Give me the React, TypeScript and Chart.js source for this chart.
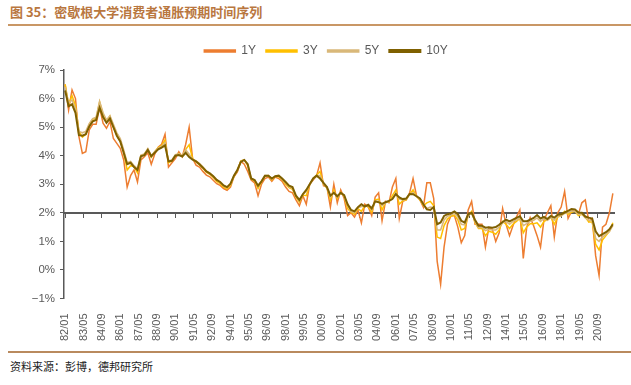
import React, { useEffect, useRef } from 'react';
import { Chart, registerables } from 'chart.js';

Chart.register(...registerables);

const TITLE = '图 35：密歇根大学消费者通胀预期时间序列';
const SOURCE = '资料来源：彭博，德邦研究所';
const SERIES_LABELS = ['1Y', '3Y', '5Y', '10Y'];
const SERIES_COLORS = ['#ED7D31', '#FFC000', '#D9B87A', '#7F6000'];

// x tick labels (every 16 months starting 1982/01)
const xTickLabels = [
  '82/01', '83/05', '84/09', '86/01', '87/05', '88/09', '90/01', '91/05', '92/09', '94/01',
  '95/05', '96/09', '98/01', '99/05', '00/09', '02/01', '03/05', '04/09', '06/01', '07/05',
  '08/09', '10/01', '11/05', '12/09', '14/01', '15/05', '16/09', '18/01', '19/05', '20/09',
];
const TICK_EVERY_MONTHS = 16;
const SAMPLE_STEP_MONTHS = 3;
const X_MIN = -1;
const X_MAX = 478;
const Y_MIN = -1;
const Y_MAX = 7;
const AXIS_CROSS = 2;

// values in %, sampled every 3 months from 1982/01
const y1 = [
  6.5, 5.6, 6.3, 6.0, 4.67, 4.08, 4.14, 4.9, 5.1, 5.1,
  5.7, 5.14, 4.96, 5.2, 4.6, 4.43, 4.26, 3.85, 2.9, 3.3,
  3.5, 3.08, 3.85, 3.96, 4.1, 3.7, 4.05, 4.3, 4.4, 4.75,
  3.6, 3.75, 3.9, 4.14, 3.96, 4.4, 5.0, 3.9, 3.67, 3.6,
  3.45, 3.32, 3.26, 3.14, 3.02, 2.96, 2.85, 2.79, 2.9, 3.26,
  3.43, 3.8, 3.7, 3.45, 3.15, 3.05, 2.6, 3.0, 3.2, 3.25,
  3.1, 3.25, 3.2, 3.1, 2.9, 2.75, 2.7, 2.45, 2.25, 2.6,
  2.3, 3.0, 3.15, 3.3, 3.75, 2.95, 2.9, 2.2, 3.0, 2.35,
  2.8, 2.5, 1.9, 2.0, 1.85, 2.1, 1.65, 2.3, 2.2, 1.9,
  2.55, 2.7, 1.72, 2.4, 2.35, 2.9, 3.2, 1.8, 2.4, 2.45,
  2.7, 3.2, 2.6, 2.45, 2.2, 3.05, 3.05, 2.5, 0.3, -0.5,
  0.8, 1.6, 1.9, 1.9, 1.5, 0.95, 1.2, 2.1, 2.4, 1.6,
  1.6, 1.6, 0.8, 1.48, 1.42, 1.0, 1.3, 2.15, 1.6, 1.2,
  1.55, 1.85, 2.1, 0.4, 1.5, 1.83, 1.55, 1.2, 0.8, 1.75,
  2.0, 2.25, 1.15, 2.0, 2.2, 2.75, 1.8, 2.05, 2.1, 1.95,
  2.35, 2.45, 1.7, 1.8, 0.5, -0.2, 1.5, 1.6, 2.0, 2.68,
];
const y3 = [
  6.5, 5.8, 6.1, 5.75, 4.85, 4.65, 4.75, 5.1, 5.28, 5.3,
  5.88, 5.45, 5.2, 5.38, 5.0, 4.72, 4.5, 4.12, 3.5, 3.65,
  3.62, 3.4, 4.0, 4.05, 4.22, 3.95, 4.14, 4.28, 4.35, 4.55,
  3.75, 3.82, 4.0, 4.08, 3.98, 4.22, 4.38, 3.9, 3.78, 3.68,
  3.56, 3.42, 3.35, 3.24, 3.1, 3.02, 2.9, 2.84, 2.96, 3.28,
  3.48, 3.82, 3.85, 3.65, 3.18, 3.12, 2.85, 3.08, 3.28, 3.3,
  3.15, 3.28, 3.26, 3.16, 3.0, 2.88, 2.82, 2.55, 2.38, 2.62,
  2.6, 3.0, 3.2, 3.32, 3.45, 3.0, 2.88, 2.45, 2.8, 2.5,
  2.72, 2.58, 2.15, 2.02, 1.95, 2.15, 2.05, 2.25, 2.22, 2.02,
  2.45, 2.48, 2.1, 2.36, 2.38, 2.6, 2.8, 2.3, 2.42, 2.45,
  2.65, 2.8, 2.58, 2.45, 2.25, 2.35, 2.4, 2.25, 1.15, 1.1,
  1.55, 1.78, 1.88, 1.92, 1.75, 1.4, 1.45, 1.9, 2.05, 1.65,
  1.45, 1.45, 1.2, 1.35, 1.32, 1.25, 1.4, 1.7, 1.6, 1.45,
  1.6, 1.7, 1.8, 1.3, 1.5, 1.62, 1.62, 1.65, 1.5, 1.7,
  1.75, 1.85, 1.6, 1.85, 1.9, 2.05, 1.95, 2.02, 2.05, 1.9,
  1.95, 1.85, 1.68, 1.68, 0.9, 0.7, 1.05, 1.2, 1.35, 1.65,
];
const y5 = [
  6.4, 5.85, 5.95, 5.65, 4.85, 4.8, 4.85, 5.12, 5.3, 5.35,
  5.9, 5.5, 5.25, 5.4, 5.1, 4.8, 4.6, 4.2, 3.75, 3.8,
  3.65, 3.55, 4.02, 4.06, 4.25, 4.0, 4.14, 4.26, 4.32, 4.45,
  3.82, 3.85, 4.03, 4.06, 4.0, 4.2, 4.05, 3.88, 3.82, 3.72,
  3.6, 3.46, 3.38, 3.28, 3.15, 3.06, 2.94, 2.88, 3.0, 3.3,
  3.5, 3.8, 3.86, 3.7, 3.2, 3.15, 2.92, 3.1, 3.3, 3.3,
  3.18, 3.28, 3.28, 3.18, 3.05, 2.92, 2.86, 2.58, 2.42, 2.65,
  2.75, 3.0, 3.2, 3.3, 3.3, 3.02, 2.88, 2.55, 2.72, 2.55,
  2.7, 2.6, 2.25, 2.05, 2.0, 2.18, 2.22, 2.22, 2.26, 2.1,
  2.4, 2.4, 2.25, 2.35, 2.4, 2.5, 2.7, 2.48, 2.45, 2.47,
  2.65, 2.7, 2.58, 2.48, 2.28, 2.15, 2.2, 2.18, 1.4, 1.4,
  1.75, 1.88, 1.92, 1.98, 1.86, 1.6, 1.58, 1.9, 2.0, 1.7,
  1.48, 1.5, 1.38, 1.42, 1.4, 1.4, 1.5, 1.65, 1.7, 1.6,
  1.7, 1.75, 1.82, 1.55, 1.62, 1.7, 1.74, 1.82, 1.7, 1.8,
  1.74, 1.84, 1.74, 1.88, 1.9, 1.98, 2.0, 2.06, 2.06, 1.95,
  1.96, 1.82, 1.74, 1.72, 1.1, 1.0, 1.15, 1.25, 1.35, 1.55,
];
const y10 = [
  6.28, 5.73, 5.8, 5.5, 4.72, 4.7, 4.75, 5.02, 5.2, 5.25,
  5.68, 5.35, 5.15, 5.3, 5.0, 4.7, 4.5, 4.1, 3.7, 3.75,
  3.6, 3.5, 3.98, 4.02, 4.2, 3.98, 4.1, 4.22, 4.28, 4.36,
  3.8, 3.82, 4.0, 4.02, 3.97, 4.1, 3.95, 3.86, 3.8, 3.7,
  3.58, 3.45, 3.38, 3.28, 3.15, 3.08, 2.96, 2.9, 3.02, 3.3,
  3.5, 3.78, 3.85, 3.7, 3.2, 3.15, 2.95, 3.1, 3.3, 3.3,
  3.2, 3.28, 3.3, 3.2, 3.08, 2.95, 2.9, 2.6, 2.45, 2.65,
  2.8, 3.0, 3.2, 3.3, 3.2, 3.05, 2.9, 2.6, 2.7, 2.58,
  2.7, 2.62, 2.3, 2.1, 2.05, 2.2, 2.3, 2.22, 2.28, 2.15,
  2.4, 2.37, 2.31, 2.37, 2.42, 2.48, 2.66, 2.54, 2.48, 2.5,
  2.66, 2.65, 2.58, 2.5, 2.3, 2.12, 2.1, 2.2, 1.6, 1.66,
  1.89, 1.95, 1.98, 2.05, 1.95, 1.72, 1.66, 1.95, 2.0, 1.75,
  1.55, 1.55, 1.48, 1.49, 1.48, 1.5, 1.58, 1.68, 1.76, 1.7,
  1.76, 1.82, 1.88, 1.7, 1.7, 1.76, 1.82, 1.92, 1.8, 1.86,
  1.78, 1.89, 1.83, 1.93, 1.95, 2.01, 2.07, 2.13, 2.12, 2.01,
  2.0, 1.87, 1.83, 1.8, 1.35, 1.18, 1.25, 1.32, 1.42, 1.6,
];
const SERIES_VALUES = [y1, y3, y5, y10];
const SERIES_WIDTHS = [1.5, 1.5, 1.6, 2];

const monthIndex = y10.map((_, i) => i * SAMPLE_STEP_MONTHS);

const AXIS_COLOR = '#595959';
const FONT = '"Liberation Sans", Arial, sans-serif';

const legendGap = {
  id: 'legendGap',
  beforeLayout(chart: any) {
    const lg = chart.legend;
    if (lg && !lg._gapPatched) {
      const orig = lg.fit.bind(lg);
      lg.fit = function () {
        orig();
        this.height += 3;
      };
      lg._gapPatched = true;
    }
  },
  afterLayout(chart: any) {
    const lg = chart.legend;
    if (lg) {
      lg.left += 4;
      lg.right += 4;
    }
  },
};

export default function App() {
  const canvasRef = useRef<HTMLCanvasElement | null>(null);

  useEffect(() => {
    const canvas = canvasRef.current;
    if (!canvas) return;
    const tickValues = xTickLabels.map((_, i) => i * TICK_EVERY_MONTHS);
    const setTicks = (scale: any) => {
      scale.ticks = tickValues.map((v) => ({ value: v }));
    };
    const chart = new Chart(canvas, {
      type: 'line',
      data: {
        datasets: SERIES_LABELS.map((label, k) => ({
          label,
          data: SERIES_VALUES[k].map((v, i) => ({ x: monthIndex[i], y: v })),
          borderColor: SERIES_COLORS[k],
          backgroundColor: SERIES_COLORS[k],
          borderWidth: SERIES_WIDTHS[k],
          pointRadius: 0,
          tension: 0,
          order: 3 - k,
          xAxisID: 'x',
          yAxisID: 'y',
        })),
      },
      plugins: [legendGap],
      options: {
        animation: false,
        responsive: false,
        maintainAspectRatio: false,
        events: [],
        layout: { padding: { left: 30, right: 17, top: 5, bottom: 0 } },
        plugins: {
          tooltip: { enabled: false },
          legend: {
            display: true,
            position: 'top',
            labels: {
              boxWidth: 31,
              boxHeight: 2,
              color: AXIS_COLOR,
              padding: 10,
              font: { size: 12, family: FONT },
              sort: (a: any, b: any) => a.datasetIndex - b.datasetIndex,
            },
          },
        },
        scales: {
          x: {
            type: 'linear',
            position: 'bottom',
            min: X_MIN,
            max: X_MAX,
            afterBuildTicks: setTicks,
            grid: { display: false },
            border: { display: false },
            ticks: {
              autoSkip: false,
              minRotation: 90,
              maxRotation: 90,
              padding: 7,
              color: AXIS_COLOR,
              font: { size: 11, family: FONT },
              callback: (_v: any, i: number) => xTickLabels[i],
            },
          },
          x2: {
            type: 'linear',
            axis: 'x',
            position: { y: AXIS_CROSS },
            min: X_MIN,
            max: X_MAX,
            afterBuildTicks: setTicks,
            grid: { drawOnChartArea: false, drawTicks: true, tickLength: 4, color: AXIS_COLOR, lineWidth: 1 },
            border: { display: true, color: AXIS_COLOR, width: 2 },
            ticks: { display: false },
          },
          y: {
            type: 'linear',
            min: Y_MIN,
            max: Y_MAX,
            afterFit: (s: any) => {
              s.width = 34;
            },
            grid: { drawOnChartArea: false, drawTicks: true, tickLength: 4, color: AXIS_COLOR },
            border: { display: true, color: AXIS_COLOR, width: 1.5 },
            ticks: {
              stepSize: 1,
              padding: 5,
              color: AXIS_COLOR,
              font: { size: 11.5, family: FONT },
              callback: (v: any) => (Number(v) < 0 ? '\u2212' + Math.abs(Number(v)) : String(v)) + '%',
            },
          },
        } as any,
      },
    });
    return () => chart.destroy();
  }, []);

  return (
    <div
      style={{
        position: 'absolute',
        left: 0,
        top: 0,
        width: 631,
        height: 385,
        background: '#ffffff',
        overflow: 'hidden',
      }}
    >
      <div
        style={{
          position: 'absolute',
          left: 10,
          top: 3,
          fontFamily: '"Noto Sans CJK SC", sans-serif',
          fontWeight: 700,
          fontSize: 13,
          lineHeight: '18px',
          color: '#B9773F',
          whiteSpace: 'nowrap',
        }}
      >
        {TITLE}
      </div>
      <div
        style={{ position: 'absolute', left: 8, top: 24, width: 623, height: 2, background: '#C99765' }}
      />
      <canvas
        ref={canvasRef}
        width={631}
        height={318}
        style={{ position: 'absolute', left: 0, top: 30, width: 631, height: 318, display: 'block' }}
      />
      <div
        style={{ position: 'absolute', left: 8, top: 351, width: 623, height: 2, background: '#B98A5E' }}
      />
      <div
        style={{
          position: 'absolute',
          left: 10,
          top: 358,
          fontFamily: '"Noto Sans CJK SC", sans-serif',
          fontSize: 11,
          lineHeight: '16px',
          color: '#222222',
          whiteSpace: 'nowrap',
        }}
      >
        {SOURCE}
      </div>
    </div>
  );
}
